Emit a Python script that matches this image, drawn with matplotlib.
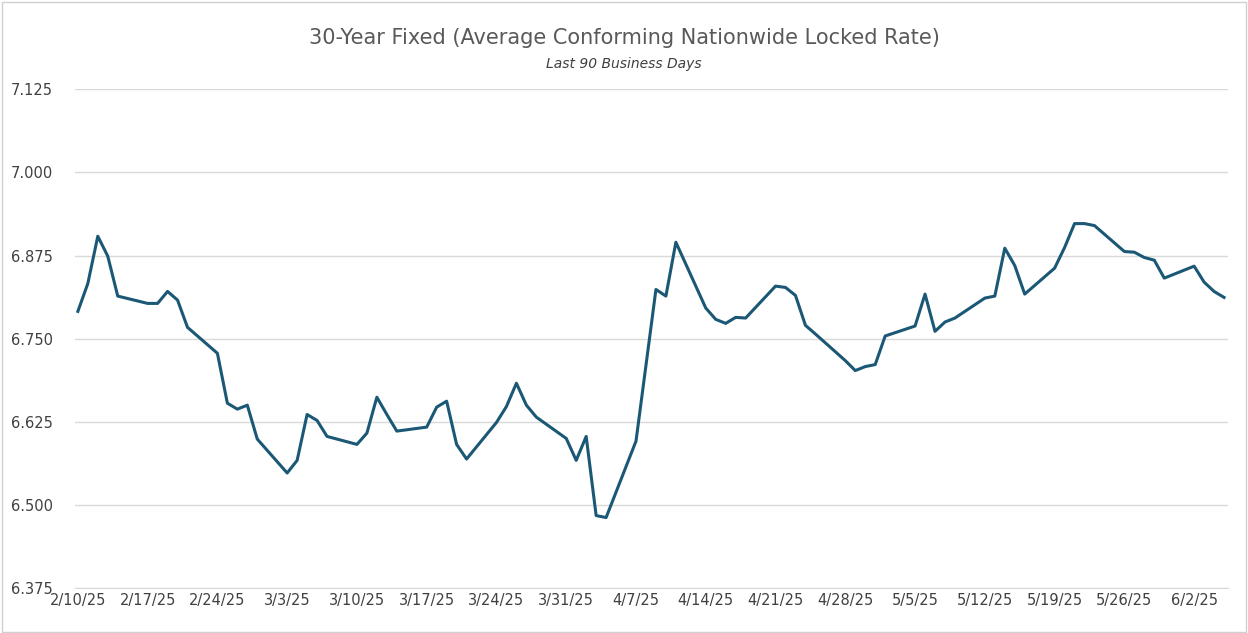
import pandas as pd
import matplotlib.pyplot as plt
from matplotlib.ticker import FixedLocator, FormatStrFormatter

dates = ["2025-02-10", "2025-02-11", "2025-02-12", "2025-02-13", "2025-02-14",
         "2025-02-17", "2025-02-18", "2025-02-19", "2025-02-20", "2025-02-21",
         "2025-02-24", "2025-02-25", "2025-02-26", "2025-02-27", "2025-02-28",
         "2025-03-03", "2025-03-04", "2025-03-05", "2025-03-06", "2025-03-07",
         "2025-03-10", "2025-03-11", "2025-03-12", "2025-03-13", "2025-03-14",
         "2025-03-17", "2025-03-18", "2025-03-19", "2025-03-20", "2025-03-21",
         "2025-03-24", "2025-03-25", "2025-03-26", "2025-03-27", "2025-03-28",
         "2025-03-31", "2025-04-01", "2025-04-02", "2025-04-03", "2025-04-04",
         "2025-04-07", "2025-04-08", "2025-04-09", "2025-04-10", "2025-04-11",
         "2025-04-14", "2025-04-15", "2025-04-16", "2025-04-17", "2025-04-18",
         "2025-04-21", "2025-04-22", "2025-04-23", "2025-04-24", "2025-04-25",
         "2025-04-28", "2025-04-29", "2025-04-30", "2025-05-01", "2025-05-02",
         "2025-05-05", "2025-05-06", "2025-05-07", "2025-05-08", "2025-05-09",
         "2025-05-12", "2025-05-13", "2025-05-14", "2025-05-15", "2025-05-16",
         "2025-05-19", "2025-05-20", "2025-05-21", "2025-05-22", "2025-05-23",
         "2025-05-26", "2025-05-27", "2025-05-28", "2025-05-29", "2025-05-30",
         "2025-06-02", "2025-06-03", "2025-06-04", "2025-06-05"]
rates = [6.791, 6.833, 6.904, 6.874, 6.814,
         6.803, 6.803, 6.821, 6.808, 6.767,
         6.728, 6.653, 6.644, 6.650, 6.599,
         6.548, 6.567, 6.636, 6.627, 6.603,
         6.591, 6.608, 6.662, 6.636, 6.611,
         6.617, 6.647, 6.656, 6.591, 6.569,
         6.624, 6.648, 6.683, 6.650, 6.632,
         6.600, 6.567, 6.603, 6.484, 6.481,
         6.596, 6.710, 6.824, 6.814, 6.895,
         6.796, 6.779, 6.773, 6.782, 6.781,
         6.829, 6.827, 6.815, 6.770, 6.757,
         6.717, 6.702, 6.708, 6.711, 6.754,
         6.769, 6.817, 6.761, 6.775, 6.781,
         6.811, 6.814, 6.886, 6.860, 6.817,
         6.856, 6.887, 6.923, 6.923, 6.920,
         6.881, 6.880, 6.872, 6.868, 6.841,
         6.859, 6.835, 6.821, 6.812]
yticks = [6.375, 6.500, 6.625, 6.750, 6.875, 7.000, 7.125]

df = pd.DataFrame({"date": pd.to_datetime(dates), "rate": rates})

fig = plt.figure(figsize=(12.48, 6.33), dpi=100)
fig.patches.append(plt.Rectangle((0.002, 0.002), 0.996, 0.995, transform=fig.transFigure,
                                 fill=False, edgecolor="#d0d0d0", linewidth=1))
ax = fig.add_axes([0.06, 0.071, 0.924, 0.788])
ax.plot(df["date"], df["rate"], color="#1b5876", linewidth=2.2)

start = pd.Timestamp("2025-02-10")
ax.set_xlim(start - pd.Timedelta(days=0.3), pd.Timestamp("2025-06-05") + pd.Timedelta(days=0.4))
ax.set_ylim(6.375, 7.125)
ax.yaxis.set_major_locator(FixedLocator(yticks))
ax.yaxis.set_major_formatter(FormatStrFormatter("%.3f"))
xt = pd.date_range(start, periods=17, freq="7D")
ax.set_xticks(xt)
ax.set_xticklabels([f"{d.month}/{d.day}/25" for d in xt])
ax.grid(axis="y", color="#d9d9d9", linewidth=1)
ax.set_axisbelow(True)
for s in ["top", "right", "left"]:
    ax.spines[s].set_visible(False)
ax.spines["bottom"].set_color("#d9d9d9")
ax.tick_params(length=0, labelsize=10.5, labelcolor="#404040")
ax.tick_params(axis="y", pad=16)

fig.text(0.5, 0.93, "30-Year Fixed (Average Conforming Nationwide Locked Rate)",
         ha="center", fontsize=15, color="#595959")
fig.text(0.5, 0.893, "Last 90 Business Days", ha="center", fontsize=10,
         style="italic", color="#404040")

fig.savefig("out.png", dpi=100)
